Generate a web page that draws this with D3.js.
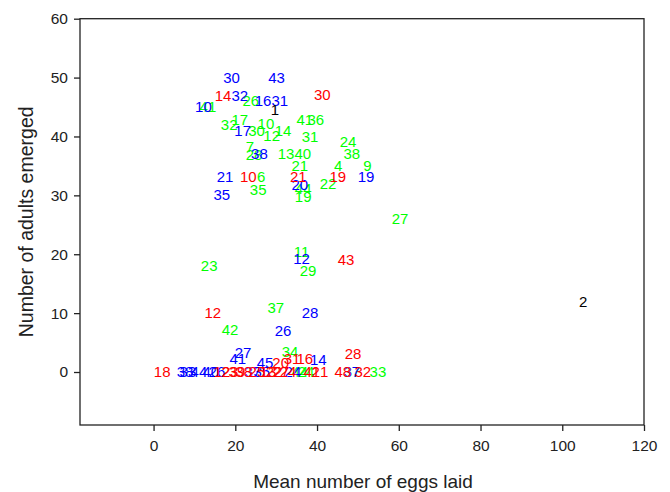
<!DOCTYPE html>
<html>
<head>
<meta charset="utf-8">
<script src="https://cdn.jsdelivr.net/npm/d3@7"></script>
<style>
  html, body { margin: 0; padding: 0; background: #fff; }
  svg { display: block; font-family: Arial, "Liberation Sans", sans-serif; }
</style>
</head>
<body>
<svg id="chart" width="670" height="492"></svg>
<script>
// ---- data: [label, mean eggs laid, adults emerged] ----
const greenPoints = [
  ["26", 23.8, 46.0], ["41", 13.3, 45.0], ["17", 21.1, 42.9], ["32", 18.5, 42.0],
  ["30", 25.2, 41.0], ["10", 27.5, 42.1], ["12", 28.9, 40.1], ["14", 31.7, 40.9],
  ["41", 37.0, 42.9], ["36", 39.7, 42.9], ["31", 38.3, 40.0], ["24", 47.6, 39.1],
  ["38", 48.5, 37.0], ["7", 23.6, 38.2], ["28", 24.6, 36.9], ["13", 32.4, 37.0],
  ["40", 36.5, 37.0], ["21", 35.8, 35.0], ["4", 45.2, 35.0], ["9", 52.3, 35.0],
  ["6", 26.3, 33.1], ["22", 42.7, 32.0], ["44", 36.6, 31.2], ["19", 36.6, 29.8],
  ["35", 25.6, 30.9], ["27", 60.3, 26.0], ["11", 36.2, 20.4], ["29", 37.8, 17.2],
  ["23", 13.6, 18.0], ["37", 29.9, 10.9], ["42", 18.7, 7.1], ["34", 33.4, 3.4],
  ["44", 35.8, 0], ["24", 37.3, 0], ["37", 48.5, 0], ["33", 54.9, 0]
];
const redPoints = [
  ["14", 17.0, 46.9], ["30", 41.3, 47.0], ["10", 23.2, 33.1], ["21", 35.4, 33.1],
  ["19", 45.1, 33.1], ["43", 47.1, 19.0], ["12", 14.5, 10.0], ["28", 48.8, 3.1],
  ["31", 33.9, 2.2], ["16", 37.0, 2.2], ["20", 31.1, 1.5], ["18", 2.1, 0],
  ["12", 16.7, 0], ["23", 18.7, 0], ["39", 20.4, 0], ["38", 22.1, 0],
  ["25", 25.3, 0], ["13", 28.0, 0], ["22", 29.5, 0], ["27", 31.2, 0],
  ["24", 32.9, 0], ["41", 38.7, 0], ["21", 40.7, 0], ["48", 46.3, 0], ["32", 51.2, 0]
];
const bluePoints = [
  ["30", 19.1, 50.0], ["43", 30.1, 50.0], ["32", 21.1, 46.9], ["16", 26.8, 46.1],
  ["31", 30.9, 46.1], ["10", 12.2, 45.0], ["17", 21.8, 41.0], ["38", 25.9, 37.0],
  ["21", 17.5, 33.1], ["19", 52.0, 33.1], ["20", 35.8, 31.8], ["35", 16.7, 30.1],
  ["12", 36.2, 19.3], ["28", 38.3, 10.0], ["26", 31.7, 7.0], ["27", 21.9, 3.2],
  ["41", 20.6, 2.3], ["45", 27.3, 1.5], ["14", 40.3, 2.0],
  ["38", 7.7, 0], ["33", 8.4, 0], ["44", 11.1, 0], ["40", 14.0, 0], ["26", 15.5, 0],
  ["37", 24.3, 0], ["35", 26.5, 0], ["24", 34.1, 0], ["37", 48.5, 0]
];
const blackPoints = [["1", 29.7, 44.6], ["2", 105.1, 11.9]];

const xTicks = [0, 20, 40, 60, 80, 100, 120];
const yTicks = [0, 10, 20, 30, 40, 50, 60];
const xTitle = "Mean number of eggs laid";
const yTitle = "Number of adults emerged";

// ---- drawing ----
const svg = d3.select("#chart");
const L = 80, R = 644, T = 18.7, B = 425;
const x = d3.scaleLinear().domain([-18, 120]).range([L, R]);
const y = d3.scaleLinear().domain([-9, 60]).range([B, T]);

// frame
svg.append("rect").attr("x", L).attr("y", T).attr("width", R - L).attr("height", B - T)
  .attr("fill", "none").attr("stroke", "#222").attr("stroke-width", 1.3);

const xAxis = svg.append("g").attr("transform", `translate(0,${B})`)
  .call(d3.axisBottom(x).tickValues(xTicks).tickSize(6).tickPadding(9).tickFormat(d3.format("d")));
const yAxis = svg.append("g").attr("transform", `translate(${L},0)`)
  .call(d3.axisLeft(y).tickValues(yTicks).tickSize(6).tickPadding(6).tickFormat(d3.format("d")));
[xAxis, yAxis].forEach(g => {
  g.select(".domain").remove();
  g.selectAll("line").attr("stroke", "#222").attr("stroke-width", 1.3);
  g.selectAll("text").attr("font-size", 15.5).attr("fill", "#222")
    .attr("font-family", "Arial, 'Liberation Sans', sans-serif");
});

svg.append("text").attr("x", (L + R) / 2 + 1).attr("y", 481).attr("dy", "0.35em")
  .attr("text-anchor", "middle").attr("font-size", 19).attr("fill", "#222").text(xTitle);
svg.append("text").attr("transform", `translate(26,${(T + B) / 2}) rotate(-90)`).attr("dy", "0.35em")
  .attr("text-anchor", "middle").attr("font-size", 19.5).attr("fill", "#222").text(yTitle);

const series = [
  { pts: greenPoints, color: "#00ff00" },
  { pts: bluePoints, color: "#0000ff" },
  { pts: redPoints, color: "#ff0000" },
  { pts: blackPoints, color: "#000000" }
];
series.forEach(s => {
  svg.append("g").selectAll("text").data(s.pts).join("text")
    .attr("x", d => x(d[1])).attr("y", d => y(d[2])).attr("dy", "0.35em")
    .attr("text-anchor", "middle").attr("font-size", 15).attr("fill", s.color)
    .text(d => d[0]);
});
</script>
</body>
</html>
